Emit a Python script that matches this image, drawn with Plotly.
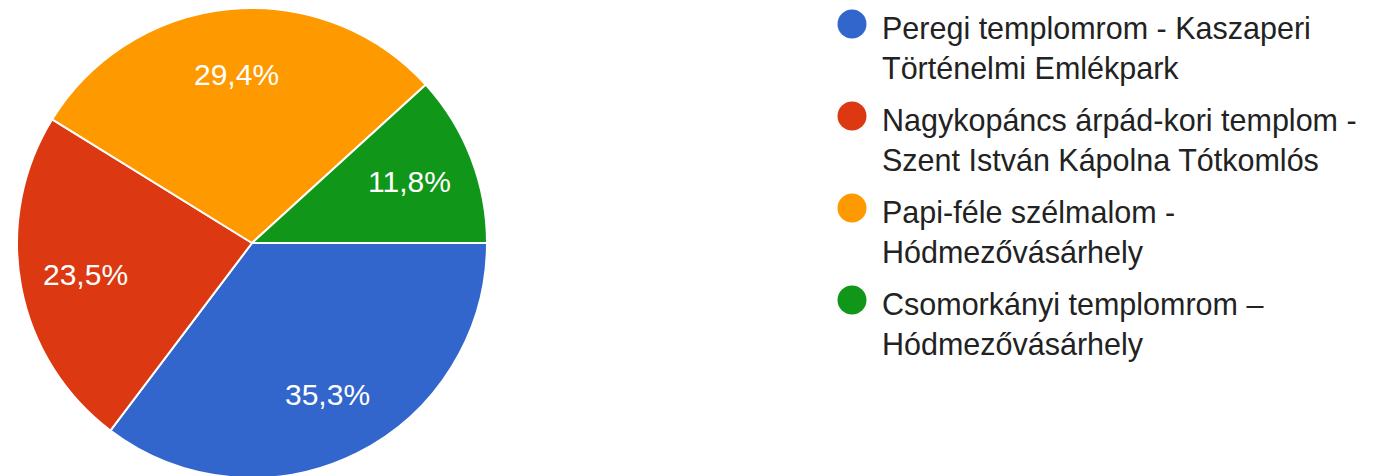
import math
import plotly.graph_objects as go

labels = [
    "Peregi templomrom - Kaszaperi<br>Történelmi Emlékpark",
    "Nagykopáncs árpád-kori templom -<br>Szent István Kápolna Tótkomlós",
    "Papi-féle szélmalom -<br>Hódmezővásárhely",
    "Csomorkányi templomrom –<br>Hódmezővásárhely",
]
counts = [6, 4, 5, 2]
pct_text = ["35,3%", "23,5%", "29,4%", "11,8%"]
colors = ["#3366cc", "#dc3912", "#ff9900", "#109618"]

W, H = 1379, 476
# pie geometry in figure pixels
cx, cy, r = 244, 235, 235
LABEL_R = 0.72

fig = go.Figure()
fig.add_trace(go.Pie(
    labels=labels,
    values=counts,
    textinfo="none",
    marker=dict(colors=colors, line=dict(color="white", width=2)),
    sort=False,
    direction="clockwise",
    rotation=90,
    showlegend=False,
    hoverinfo="skip",
    domain=dict(x=[(cx - r) / W, (cx + r) / W], y=[(H - cy - r) / H, min(1.0, (H - cy + r) / H)]),
))

# percentage labels placed at slice mid-angles (derived from the counts)
total = sum(counts)
cum = 0
annotations = []
for v, t in zip(counts, pct_text):
    mid = (cum + v / 2) / total * 2 * math.pi  # clockwise from 3 o'clock
    cum += v
    px = cx + LABEL_R * r * math.cos(mid)
    py = cy + LABEL_R * r * math.sin(mid)
    annotations.append(dict(
        x=px / W, y=1 - py / H, xref="paper", yref="paper",
        text=t, showarrow=False, xanchor="center", yanchor="middle",
        font=dict(family="Arial, Liberation Sans", size=30, color="white"),
    ))

# custom legend
shapes = []
LEG_X, LEG_Y0, LEG_STEP, DOT = 844, 16, 92, 29
TEXT_X = 873
for i, (lab, col) in enumerate(zip(labels, colors)):
    yc = LEG_Y0 + i * LEG_STEP
    shapes.append(dict(
        type="circle", xref="paper", yref="paper",
        x0=(LEG_X - DOT / 2) / W, x1=(LEG_X + DOT / 2) / W,
        y0=1 - (yc + DOT / 2) / H, y1=1 - (yc - DOT / 2) / H,
        fillcolor=col, line=dict(width=0),
    ))
    annotations.append(dict(
        x=TEXT_X / W, y=1 - (yc + 24) / H, xref="paper", yref="paper",
        text=lab, showarrow=False, xanchor="left", yanchor="middle", align="left",
        borderpad=0,
        font=dict(family="Arial, Liberation Sans", size=30.5, color="#222222"),
    ))

fig.update_layout(
    width=W, height=H,
    margin=dict(l=0, r=0, t=0, b=0),
    paper_bgcolor="white",
    plot_bgcolor="white",
    showlegend=False,
    annotations=annotations,
    shapes=shapes,
)

fig.write_html("out.html")
